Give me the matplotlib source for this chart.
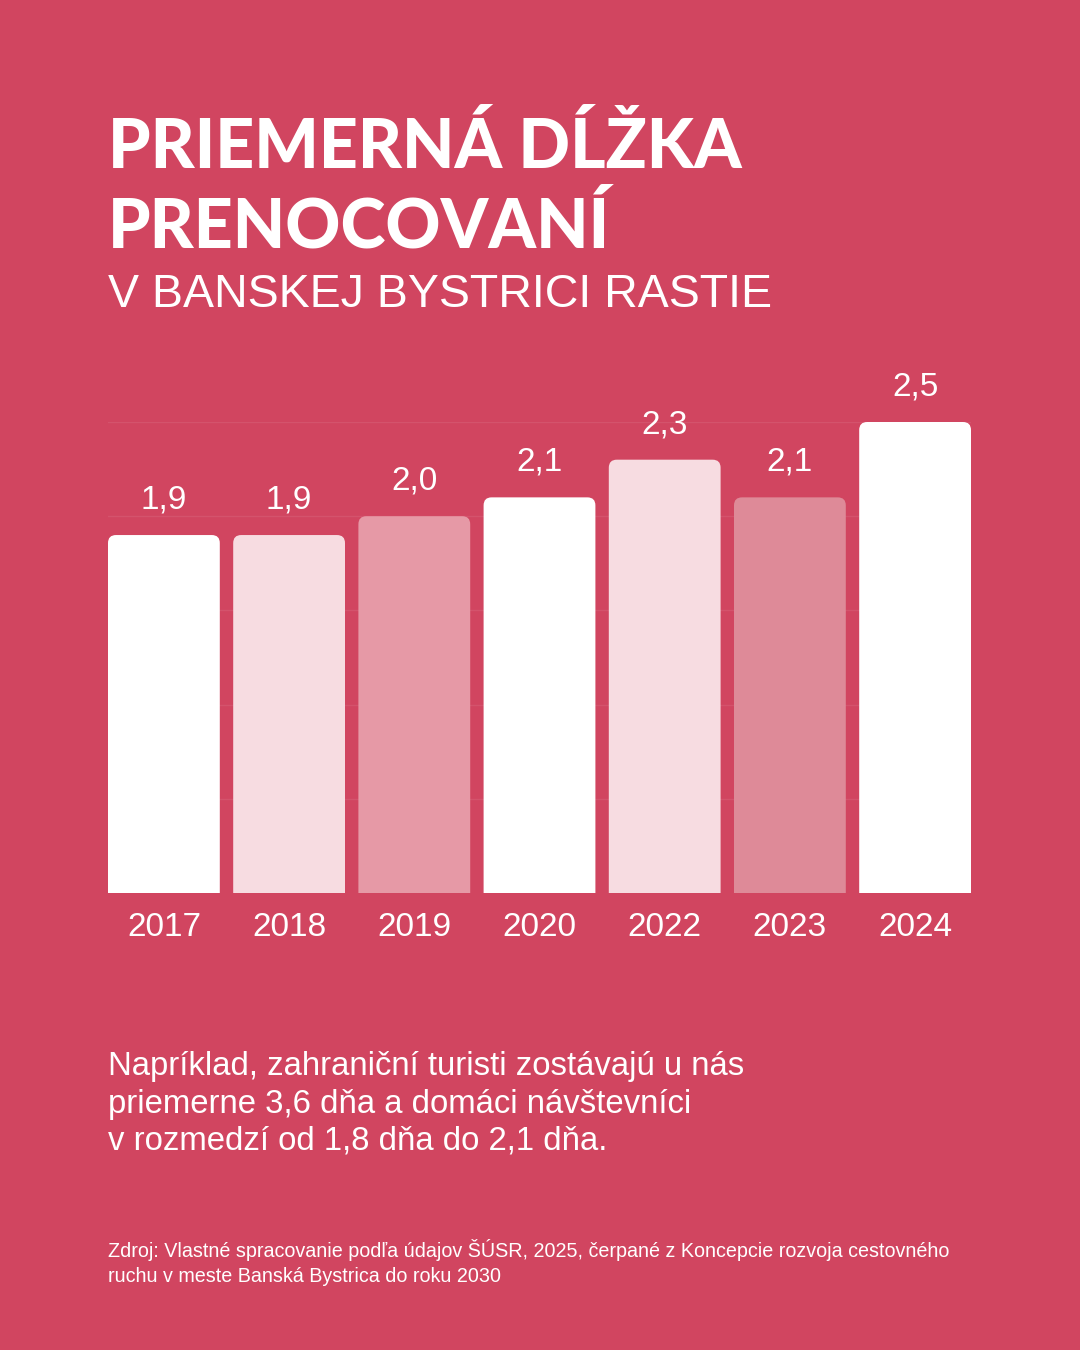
import matplotlib
matplotlib.use("Agg")
import matplotlib.pyplot as plt
from matplotlib.patches import PathPatch
from matplotlib.path import Path

# data
years = ["2017", "2018", "2019", "2020", "2022", "2023", "2024"]
values = [1.9, 1.9, 2.0, 2.1, 2.3, 2.1, 2.5]
value_labels = ["1,9", "1,9", "2,0", "2,1", "2,3", "2,1", "2,5"]
bar_colors = ["#FFFFFF", "#F7DCE1", "#E699A6", "#FFFFFF", "#F7DCE1", "#DE8A98", "#FFFFFF"]

BG = "#D14560"
SANS = ["Liberation Sans", "DejaVu Sans"]
TITLE = ["Lato", "DejaVu Sans"]


def top_rounded(x0, y0, w, h, rx, ry):
    # obdlznik so zaoblenymi hornymi rohmi
    x1, y1 = x0 + w, y0 + h
    verts = [(x0, y0), (x1, y0), (x1, y1 - ry), (x1, y1), (x1 - rx, y1),
             (x0 + rx, y1), (x0, y1), (x0, y1 - ry), (x0, y0)]
    codes = [Path.MOVETO, Path.LINETO, Path.LINETO, Path.CURVE3, Path.CURVE3,
             Path.LINETO, Path.CURVE3, Path.CURVE3, Path.CLOSEPOLY]
    return Path(verts, codes)


fig = plt.figure(figsize=(10.8, 13.5), dpi=100, facecolor=BG)

# titulok
fig.text(0.1, 1 - 168 / 1350, "PRIEMERNÁ DĹŽKA", family=TITLE,
         weight="black", fontsize=49, color="white", va="baseline")
fig.text(0.1, 1 - 248 / 1350, "PRENOCOVANÍ", family=TITLE,
         weight="black", fontsize=49, color="white", va="baseline")
fig.text(0.1, 1 - 307 / 1350, "V BANSKEJ BYSTRICI RASTIE", family=SANS,
         fontsize=33.5, color="white", va="baseline")

# graf
ax = fig.add_axes([108 / 1080, 1 - 893 / 1350, (971 - 108) / 1080, (893 - 422) / 1350])
ax.set_facecolor(BG)
width = 0.893
x = list(range(len(years)))
ax.set_xlim(-width / 2, len(years) - 1 + width / 2)
ax.set_ylim(0, 2.5)

bars = ax.bar(x, values, width=width, color=bar_colors, zorder=2)

p0 = ax.transData.transform((0, 0))
p1 = ax.transData.transform((1, 1))
rx = 8 / (p1[0] - p0[0])
ry = 8 / (p1[1] - p0[1])
for b in bars:
    bx, by = b.get_xy()
    fc = b.get_facecolor()
    b.set_visible(False)
    ax.add_patch(PathPatch(top_rounded(bx, by, b.get_width(), b.get_height(), rx, ry),
                           fc=fc, ec="none", zorder=2))

for xi, v, lab in zip(x, values, value_labels):
    ax.annotate(lab, (xi, v), xytext=(0, 19), textcoords="offset points",
                ha="center", va="baseline", fontsize=24, color="white",
                family=SANS, annotation_clip=False)

ax.set_yticks([0.5, 1.0, 1.5, 2.0, 2.5])
ax.yaxis.grid(True, color="white", alpha=0.08, linewidth=1, zorder=0)
ax.set_axisbelow(True)
ax.set_yticklabels([])
ax.tick_params(axis="y", length=0)
ax.set_xticks(x)
ax.set_xticklabels(years, fontsize=24, color="white", family=SANS)
ax.tick_params(axis="x", length=0, pad=14)
for s in ax.spines.values():
    s.set_visible(False)

# text pod grafom
body = ["Napríklad, zahraniční turisti zostávajú u nás",
        "priemerne 3,6 dňa a domáci návštevníci",
        "v rozmedzí od 1,8 dňa do 2,1 dňa."]
for i, line in enumerate(body):
    fig.text(0.1, 1 - (1075 + i * 37.5) / 1350, line, family=SANS, fontsize=23.7,
             color="white", va="baseline")

fig.text(0.1, 1 - 1257 / 1350,
         "Zdroj: Vlastné spracovanie podľa údajov ŠÚSR, 2025, čerpané z Koncepcie rozvoja cestovného",
         family=SANS, fontsize=14.2, color="white", va="baseline")
fig.text(0.1, 1 - 1282 / 1350, "ruchu v meste Banská Bystrica do roku 2030",
         family=SANS, fontsize=14.2, color="white", va="baseline")

fig.savefig("out.png", dpi=100, facecolor=BG)
